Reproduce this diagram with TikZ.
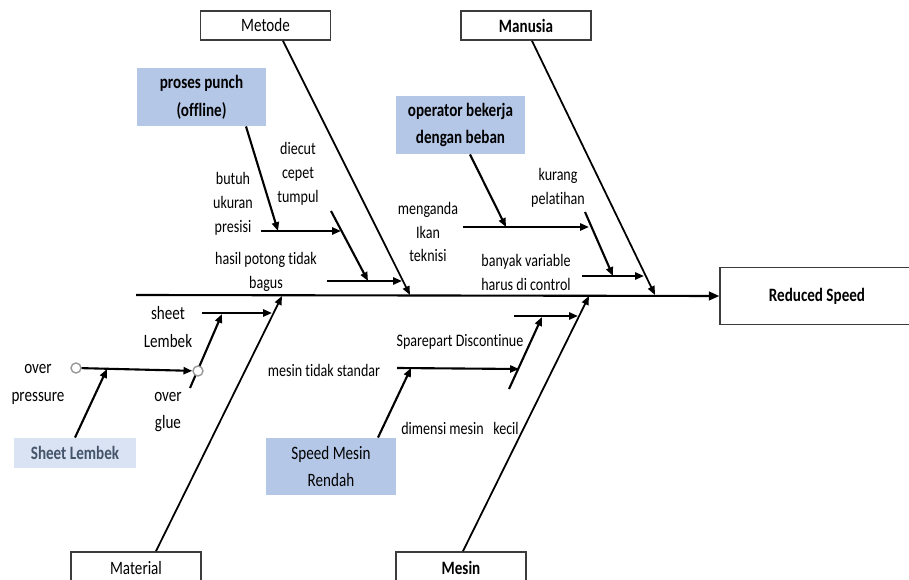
\documentclass[tikz,border=0pt]{standalone}
\usepackage{fontspec}
\setmainfont{Carlito}[Ligatures=NoCommon]
\usetikzlibrary{arrows.meta,positioning,calc}
\definecolor{fbblue}{RGB}{180,199,231}
\definecolor{fblight}{RGB}{218,227,243}
\definecolor{fbtext}{RGB}{68,84,106}
\definecolor{fbedge}{RGB}{60,60,60}

\begin{document}
\begin{tikzpicture}[x=0.02cm, y=-0.02cm,
  tall/.style={yscale=1.25, transform shape},
  cat/.style={tall, draw=fbedge, fill=white, line width=0.8pt, minimum width=2.6cm, minimum height=0.464cm, inner sep=0pt, font=\fontsize{8.6}{10}\selectfont},
  catb/.style={cat, font=\fontsize{8.6}{10}\selectfont\bfseries},
  cause/.style={tall, fill=fbblue, minimum width=2.6cm, minimum height=0.928cm, inner sep=0pt, align=center, font=\fontsize{8.6}{12.7}\selectfont},
  lbl/.style={tall, inner sep=0pt, align=center, font=\fontsize{8}{10.9}\selectfont},
  lblw/.style={tall, inner sep=0pt, align=center, font=\fontsize{8.6}{12.7}\selectfont},
  bone/.style={line width=1pt, -{Triangle[length=5pt,width=4pt]}},
  twig/.style={line width=1.2pt, -{Triangle[length=5pt,width=4pt]}},
  ring/.style={circle, draw=gray!80, fill=white, line width=0.8pt, minimum size=0.2cm, inner sep=0pt}
]
  \clip (0,0) rectangle (909,580);

  %% Category boxes and effect
  \node[cat] (met) at (265.5,25.5) {Metode};
  \node[catb] (man) at (526,25.5) {Manusia};
  \node[cat, minimum height=0.512cm] (mat) at (136,568) {Material};
  \node[catb, minimum height=0.512cm] (msn) at (461,568) {Mesin};
  \node[catb, minimum width=3.88cm, minimum height=0.912cm] (eff) at (817,296) {Reduced Speed};

  %% Spine
  \coordinate (tail) at (136,295);
  \draw[line width=1.2pt, -{Triangle[length=6pt,width=5pt]}] (tail) -- (eff.west);

  %% Main bones
  \coordinate (jmet) at (410,295);
  \coordinate (jman) at (655,295);
  \coordinate (jmat) at (282,296);
  \coordinate (jmsn) at (589,296);
  \draw[bone] ([xshift=0.35cm]met.south) -- (jmet);
  \draw[bone] ([xshift=0.12cm]man.south) -- (jman);
  \draw[bone] ([xshift=0.4cm]mat.north) -- (jmat);
  \draw[bone] ([xshift=0.04cm]msn.north) -- (jmsn);

  %% Metode causes
  \node[cause, font=\fontsize{8.6}{12.7}\selectfont\bfseries] (pp) at (201.5,97) {proses punch\\(offline)};
  \node[lbl] (bu) at (233,204) {butuh\\ukuran\\presisi};
  \node[lbl] (dc) at (298,174) {diecut\\cepet\\tumpul};
  \node[lbl] (hp) at (266,272) {hasil potong tidak\\bagus};
  \coordinate (h1a) at (261,231);
  \coordinate (h1b) at (341,231);
  \coordinate (h1p) at (278,231);
  \coordinate (dca) at (331,211);
  \coordinate (dcb) at (368,281);
  \coordinate (h2a) at (327,281);
  \coordinate (h2b) at (402,281);
  \draw[twig] (h1a) -- (h1b);
  \draw[twig] ([xshift=0.89cm]pp.south) -- (h1p);
  \draw[twig] (dca) -- (dcb);
  \draw[twig] (h2a) -- (h2b);

  %% Manusia causes
  \node[cause, font=\fontsize{8.6}{12.7}\selectfont\bfseries] (ob) at (460.5,125) {operator bekerja\\dengan beban};
  \node[lbl] (mt) at (428,232) {menganda\\Ikan\\teknisi};
  \node[lbl] (kp) at (558,187.5) {kurang\\pelatihan};
  \node[lbl] (bv) at (526,272) {banyak variable\\harus di control};
  \coordinate (h3a) at (463,227);
  \coordinate (h3b) at (589,227);
  \coordinate (h3p) at (506,227);
  \coordinate (kpa) at (585,212);
  \coordinate (kpb) at (613,276);
  \coordinate (h4a) at (582,276);
  \coordinate (h4b) at (644,276);
  \draw[twig] (h3a) -- (h3b);
  \draw[twig] ([xshift=0.19cm]ob.south) -- (h3p);
  \draw[twig] (kpa) -- (kpb);
  \draw[twig] (h4a) -- (h4b);

  %% Material causes
  \node[cause, fill=fblight, minimum width=2.46cm, minimum height=0.48cm, text=fbtext, font=\fontsize{8.6}{10}\selectfont\bfseries] (sl) at (75,453) {Sheet Lembek};
  \node[lblw] (sh) at (168,327) {sheet\\Lembek};
  \node[lblw] (op) at (38,384) {over\\pressure};
  \node[lblw] (og) at (168,412) {over\\glue};
  \coordinate (h5a) at (202,313);
  \coordinate (h5b) at (272,313);
  \coordinate (gla) at (190,388);
  \coordinate (glb) at (222,314);
  \coordinate (h6p) at (107,369);
  \draw[twig] (h5a) -- (h5b);
  \draw[twig] (gla) -- (glb);
  \node[ring] (r1) at (76,368) {};
  \node[ring] (r2) at (198,371) {};
  \draw[twig] (r1) -- (r2);
  \draw[twig] (sl.north) -- (h6p);

  %% Mesin causes
  \node[cause, minimum height=0.912cm] (sm) at (331,466.5) {Speed Mesin\\Rendah};
  \node[lbl] (sd) at (460,342) {Sparepart Discontinue};
  \node[lbl] (ts) at (324,370) {mesin tidak standar};
  \node[lbl] (dm) at (460,428) {dimensi mesin\ \ \ kecil};
  \coordinate (h7a) at (514,316);
  \coordinate (h7b) at (578,316);
  \coordinate (spa) at (509,389);
  \coordinate (spb) at (542,317);
  \coordinate (h8a) at (397,368);
  \coordinate (h8b) at (519,369);
  \coordinate (h8p) at (411,368);
  \draw[twig] (h7a) -- (h7b);
  \draw[twig] (spa) -- (spb);
  \draw[twig] (h8a) -- (h8b);
  \draw[twig] ([xshift=0.94cm]sm.north) -- (h8p);
\end{tikzpicture}
\end{document}
